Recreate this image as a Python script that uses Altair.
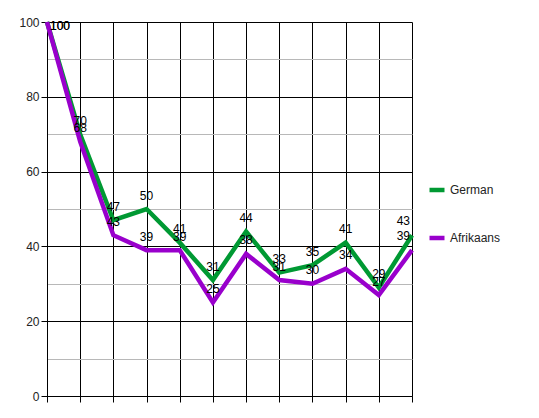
import altair as alt
import pandas as pd

points = ["1", "2", "3", "4", "5", "6", "7", "8", "9", "10", "11", "12"]
german = [100, 70, 47, 50, 41, 31, 44, 33, 35, 41, 29, 43]
afrikaans = [100, 68, 43, 39, 39, 25, 38, 31, 30, 34, 27, 39]
series = ["German", "Afrikaans"]
colors = ["#009933", "#9900CC"]
y_ticks = [0, 10, 20, 30, 40, 50, 60, 70, 80, 90, 100]

rows = []
for name, vals in zip(series, [german, afrikaans]):
    for i, (p, v) in enumerate(zip(points, vals)):
        rows.append({"point": p, "value": v, "language": name, "order": i})
df = pd.DataFrame(rows)

FONT = "Liberation Sans"
last = len(points) - 1

x_enc = alt.X(
    "point:O", sort=points,
    scale=alt.Scale(type="point", padding=0),
    axis=alt.Axis(labels=False, title=None, grid=True, gridColor="black",
                  gridOpacity=1, domainColor="black", tickColor="black",
                  tickSize=6, domainWidth=1),
)
y_enc = alt.Y(
    "value:Q",
    scale=alt.Scale(domain=[0, 100], nice=False, zero=True),
    axis=alt.Axis(
        values=y_ticks, title=None, grid=True,
        gridColor={"condition": {"test": "datum.value % 20 === 0", "value": "black"},
                   "value": "#b8b8b8"},
        gridOpacity=1,
        tickOpacity={"condition": {"test": "datum.value % 20 === 0", "value": 1},
                     "value": 0},
        labelExpr="datum.value % 20 === 0 ? datum.label : ''",
        labelFont=FONT, labelFontSize=12, labelColor="#222222",
        tickColor="black", tickSize=6, labelPadding=2, domainColor="black",
    ),
)

base = alt.Chart(df)

lines = base.mark_line(strokeWidth=4.5, strokeJoin="miter").encode(
    x=x_enc, y=y_enc,
    color=alt.Color(
        "language:N",
        scale=alt.Scale(domain=series, range=colors),
        legend=alt.Legend(
            title=None, orient="none", legendX=380, legendY=158,
            symbolType="stroke", symbolSize=225, symbolStrokeWidth=4.5,
            labelFont=FONT, labelFontSize=12, labelColor="#222222",
            rowPadding=29, labelOffset=3, direction="vertical",
        ),
        sort=series,
    ),
    detail="language:N",
)

text_common = dict(font=FONT, fontSize=12, color="black", baseline="alphabetic")

mid_labels = base.mark_text(align="center", dy=-9.5, **text_common).encode(
    x=x_enc, y=y_enc, text="value:Q"
).transform_filter(f"datum.order > 0 && datum.order < {last}")

first_labels = base.mark_text(align="left", dx=3, dy=7.5, **text_common).encode(
    x=x_enc, y=y_enc, text="value:Q"
).transform_filter("datum.order == 0")

last_labels = base.mark_text(align="right", dx=-2, dy=-10, **text_common).encode(
    x=x_enc, y=y_enc, text="value:Q"
).transform_filter(f"datum.order == {last}")

chart = alt.layer(lines, mid_labels, first_labels, last_labels).properties(
    width=365, height=374,
    autosize=alt.AutoSizeParams(type="none"),
    padding={"left": 39, "top": 14, "right": 119, "bottom": 10},
    background="white",
).configure_view(stroke=None)

chart.save("out.html", embed_options={"renderer": "svg", "actions": False})
